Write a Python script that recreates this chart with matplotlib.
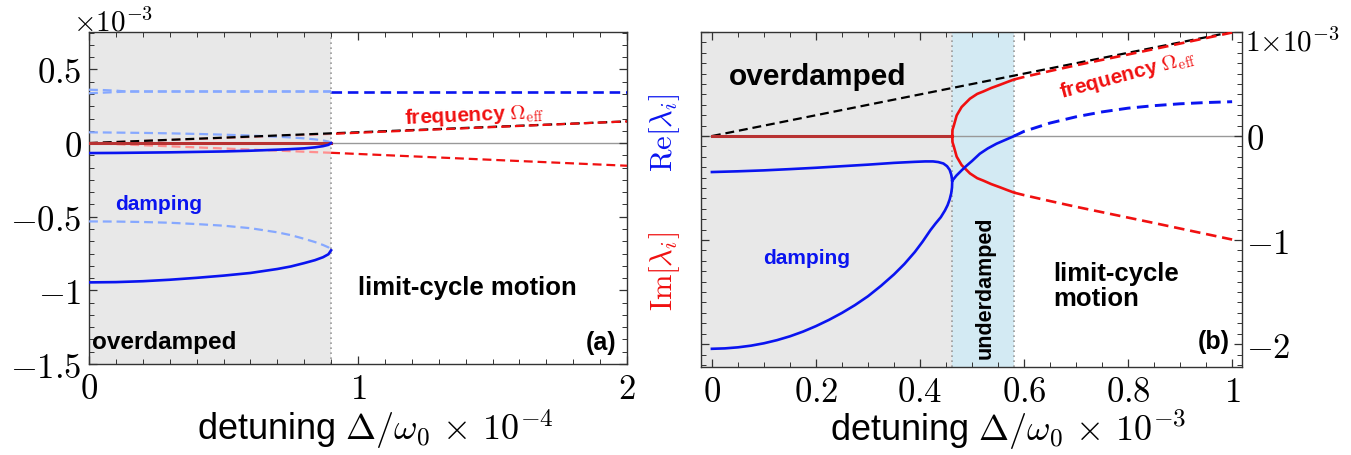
"""Eigenvalue branches vs detuning: overdamped / underdamped / limit-cycle regimes."""

import matplotlib
matplotlib.use("Agg")
import matplotlib.pyplot as plt
from matplotlib.ticker import MultipleLocator, FixedLocator

plt.rcParams["mathtext.fontset"] = "cm"
plt.rcParams["font.family"] = ["Liberation Sans", "DejaVu Sans"]

# ---------------- panel (a): x in 1e-4, y in 1e-3 ----------------
xa_gray = [0, 0.1, 0.2, 0.3, 0.4, 0.5, 0.6, 0.7, 0.75, 0.8, 0.84, 0.87, 0.89, 0.9]
a_small_up = [0.073, 0.071, 0.069, 0.066, 0.062, 0.057, 0.051, 0.043, 0.038, 0.032, 0.025, 0.018, 0.010, 0.0]
a_small_dn = [-0.068, -0.067, -0.065, -0.063, -0.060, -0.057, -0.052, -0.045, -0.041, -0.036, -0.029, -0.021, -0.012, 0.0]
a_big_up = [-0.532, -0.533, -0.536, -0.541, -0.550, -0.561, -0.578, -0.606, -0.625, -0.650, -0.672, -0.692, -0.708, -0.725]
a_big_dn = [-0.946, -0.944, -0.938, -0.928, -0.915, -0.900, -0.882, -0.855, -0.838, -0.815, -0.795, -0.775, -0.755, -0.728]

xa_top = [0, 0.05, 0.1, 0.14, 0.9]
a_top_up = [0.362, 0.360, 0.356, 0.350, 0.350]
a_top_dn = [0.338, 0.342, 0.346, 0.350, 0.350]

xa_line = [0, 0.9, 2.0]
a_diag = [0, 0.066, 0.147]          # black dashed reference line
a_freq_up = [0, 0.062, 0.147]
a_freq_dn = [0, -0.066, -0.154]
a_gamma_out = 0.350                 # blue dashed beyond the boundary
a_boundary = 0.9

# ---------------- panel (b): x in 1e-3, y in 1e-3 ----------------
b_ep = 0.462
b_lc = 0.581
xb_diag = [0, 1]
b_diag = [0, 1]

xb_rup = [0.462, 0.4625, 0.465, 0.4705, 0.48, 0.496, 0.51, 0.522, 0.537, 0.554, 0.567, 0.581]
b_rup = [0.0, 0.06, 0.10, 0.198, 0.279, 0.359, 0.405, 0.429, 0.462, 0.493, 0.518, 0.544]
xb_rup_d = [0.581, 0.6, 0.65, 0.7, 0.75, 0.8, 0.85, 0.9, 0.95, 1.0]
b_rup_d = [0.544, 0.568, 0.625, 0.680, 0.732, 0.784, 0.836, 0.889, 0.942, 0.995]

xb_gup = [0, 0.05, 0.1, 0.15, 0.2, 0.25, 0.3, 0.35, 0.39, 0.41, 0.425, 0.435, 0.445, 0.452, 0.457, 0.460, 0.462]
b_gup = [-0.346, -0.339, -0.330, -0.318, -0.305, -0.290, -0.275, -0.258, -0.248, -0.244, -0.244, -0.250, -0.264, -0.290, -0.325, -0.370, -0.430]
xb_gdn = [0, 0.025, 0.05, 0.075, 0.1, 0.125, 0.15, 0.175, 0.2, 0.225, 0.25, 0.275, 0.3, 0.325,
          0.35, 0.37, 0.39, 0.405, 0.42, 0.43, 0.44, 0.448, 0.453, 0.457, 0.46, 0.4615, 0.462]
b_gdn = [-2.045, -2.041, -2.031, -2.015, -1.992, -1.962, -1.925, -1.880, -1.827, -1.767, -1.700, -1.625,
         -1.540, -1.440, -1.330, -1.230, -1.115, -1.015, -0.905, -0.840, -0.780, -0.715, -0.665,
         -0.610, -0.550, -0.495, -0.430]
xb_gmid = [0.462, 0.47, 0.48, 0.49, 0.50, 0.515, 0.53, 0.547, 0.565, 0.581]
b_gmid = [-0.43, -0.38, -0.33, -0.283, -0.24, -0.17, -0.12, -0.074, -0.035, 0.0]
xb_gout = [0.581, 0.6, 0.65, 0.7, 0.75, 0.8, 0.85, 0.9, 0.95, 1.0]
b_gout = [0.0, 0.045, 0.125, 0.185, 0.232, 0.268, 0.292, 0.310, 0.322, 0.330]

BLUE = "#0a14f0"
RED = "#f01010"
DARKRED = "#b83232"
LBLUE = "#86a8ff"
LRED = "#ff8f8f"
GRAY = "#e8e8e8"
CYAN = "#d3eaf3"
DASH = (0, (4, 2.2))
LW = 1.6
BOLD = dict(fontweight="bold", family=["Liberation Sans", "DejaVu Sans"])


def frame(ax):
    for s in ax.spines.values():
        s.set_color("#333333")
        s.set_linewidth(1.0)
    ax.tick_params(direction="in", which="both", top=True, right=True,
                   colors="#333333", labelcolor="black", labelsize=25)
    ax.tick_params(which="major", length=6, width=0.9)
    ax.tick_params(which="minor", length=3.5, width=0.7)
    ax.axhline(0, color="#999999", lw=1.0, zorder=1)


fig = plt.figure(figsize=(13.51, 4.56), dpi=100)

# ---------------- panel (a) ----------------
ax = fig.add_axes([89 / 1351, 91 / 456, 538 / 1351, 332 / 456])
ax.set_xlim(0, 2)
ax.set_ylim(-1.5, 0.754)
ax.axvspan(0, a_boundary, color=GRAY, lw=0, zorder=0)
ax.axvline(a_boundary, color="#9a9a9a", lw=1.2, ls=(0, (1, 2)), zorder=1)
frame(ax)

ax.plot(xa_top, a_top_up, color=LBLUE, lw=LW, ls=DASH, zorder=3)
ax.plot(xa_top, a_top_dn, color=LBLUE, lw=LW, ls=DASH, zorder=3)
ax.plot([a_boundary, 2], [a_gamma_out, a_gamma_out], color=BLUE, lw=LW + 0.3, ls=DASH, zorder=3)

ax.plot(xa_line[:2], a_freq_up[:2], color=LRED, lw=LW, ls=DASH, zorder=3)
ax.plot(xa_line[:2], a_freq_dn[:2], color=LRED, lw=LW, ls=DASH, zorder=3)
ax.plot(xa_line[1:], a_freq_dn[1:], color=RED, lw=LW, ls=DASH, zorder=3)
ax.plot(xa_line, a_diag, color="black", lw=LW, ls=DASH, zorder=4)
ax.plot(xa_line[1:], a_freq_up[1:], color=RED, lw=LW, ls=(4, (4, 2.2)), zorder=5)
ax.plot([0, a_boundary], [0, 0], color=DARKRED, lw=2.2, zorder=4)

ax.plot(xa_gray, a_small_up, color=LBLUE, lw=LW, ls=DASH, zorder=3)
ax.plot(xa_gray, a_small_dn, color=BLUE, lw=LW + 0.3, zorder=4)
ax.plot(xa_gray, a_big_up, color=LBLUE, lw=LW, ls=DASH, zorder=3)
ax.plot(xa_gray, a_big_dn, color=BLUE, lw=LW + 0.3, zorder=4)

ax.xaxis.set_major_locator(FixedLocator([0, 1, 2]))
ax.xaxis.set_minor_locator(MultipleLocator(0.1))
ax.set_xticklabels(["$0$", "$1$", "$2$"])
ax.yaxis.set_major_locator(FixedLocator([0.5, 0, -0.5, -1, -1.5]))
ax.yaxis.set_minor_locator(MultipleLocator(0.5 / 6))
ax.set_yticklabels(["$0.5$", "$0$", "$-0.5$", "$-1$", "$-1.5$"])
ax.tick_params(axis="x", pad=6)
ax.tick_params(axis="y", pad=5)

ax.text(-0.03, 1.006, r"$\times 10^{-3}$", transform=ax.transAxes, fontsize=21,
        ha="left", va="baseline")
ax.text(0.533, -0.229, r"detuning $\Delta/\omega_0\,\times\,10^{-4}$", transform=ax.transAxes,
        fontsize=26, ha="center", va="baseline")
ax.text(0.130, 0.482, "damping", transform=ax.transAxes, color=BLUE, fontsize=15,
        ha="center", va="center", **BOLD)
ax.text(0.006, 0.069, "overdamped", transform=ax.transAxes, fontsize=17.5,
        ha="left", va="center", **BOLD)
ax.text(0.704, 0.232, "limit-cycle motion", transform=ax.transAxes, fontsize=18.5,
        ha="center", va="center", **BOLD)
ax.text(0.981, 0.066, "(a)", transform=ax.transAxes, fontsize=18,
        ha="right", va="center", **BOLD)
ax.text(0.716, 0.753, r"frequency $\Omega_{\rm eff}$", transform=ax.transAxes, color=RED,
        fontsize=15, ha="center", va="center", rotation=2.5, **BOLD)

# ---------------- panel (b) ----------------
bx = fig.add_axes([701 / 1351, 88 / 456, 541 / 1351, 335 / 456])
bx.set_xlim(-0.021, 1.019)
bx.set_ylim(-2.22, 1.0)
bx.axvspan(-0.021, b_ep, color=GRAY, lw=0, zorder=0)
bx.axvspan(b_ep, b_lc, color=CYAN, lw=0, zorder=0)
for xv in (b_ep, b_lc):
    bx.axvline(xv, color="#9a9a9a", lw=1.2, ls=(0, (1, 2)), zorder=1)
frame(bx)

bx.plot(xb_diag, b_diag, color="black", lw=LW, ls=DASH, zorder=3)
bx.plot([0, b_ep], [0, 0], color=DARKRED, lw=2.2, zorder=4)
bx.plot(xb_rup, b_rup, color=RED, lw=LW + 0.3, zorder=4)
bx.plot(xb_rup, [-v for v in b_rup], color=RED, lw=LW + 0.3, zorder=4)
bx.plot(xb_rup_d, b_rup_d, color=RED, lw=LW + 0.3, ls=DASH, zorder=4)
bx.plot(xb_rup_d, [-v for v in b_rup_d], color=RED, lw=LW + 0.3, ls=DASH, zorder=4)

bx.plot(xb_gup, b_gup, color=BLUE, lw=LW + 0.3, zorder=4)
bx.plot(xb_gdn, b_gdn, color=BLUE, lw=LW + 0.3, zorder=4)
bx.plot(xb_gmid, b_gmid, color=BLUE, lw=LW + 0.3, zorder=4)
bx.plot(xb_gout, b_gout, color=BLUE, lw=LW + 0.5, ls=DASH, zorder=4)

bx.xaxis.set_major_locator(FixedLocator([0, 0.2, 0.4, 0.6, 0.8, 1.0]))
bx.xaxis.set_minor_locator(MultipleLocator(0.05))
bx.set_xticklabels(["$0$", "$0.2$", "$0.4$", "$0.6$", "$0.8$", "$1$"])
bx.yaxis.set_major_locator(FixedLocator([1, 0, -1, -2]))
bx.yaxis.set_minor_locator(MultipleLocator(0.1))
bx.set_yticklabels(["", "$0$", "$-1$", "$-2$"])
bx.tick_params(axis="y", labelleft=False, labelright=True, pad=3)
bx.tick_params(axis="x", pad=6)

bx.text(1.0055, 0.970, r"$1{\times}10^{-3}$", transform=bx.transAxes, fontsize=21,
        ha="left", va="center")
bx.text(0.567, -0.218, r"detuning $\Delta/\omega_0\,\times\,10^{-3}$", transform=bx.transAxes,
        fontsize=26, ha="center", va="baseline")
bx.text(-0.068, 0.701, r"$\mathrm{Re}[\lambda_i]$", transform=bx.transAxes, color=BLUE,
        fontsize=22, ha="center", va="center", rotation=90)
bx.text(-0.068, 0.287, r"$\mathrm{Im}[\lambda_i]$", transform=bx.transAxes, color=RED,
        fontsize=22, ha="center", va="center", rotation=90)
bx.text(0.216, 0.869, "overdamped", transform=bx.transAxes, fontsize=21.5,
        ha="center", va="center", **BOLD)
bx.text(0.196, 0.328, "damping", transform=bx.transAxes, color=BLUE, fontsize=15,
        ha="center", va="center", **BOLD)
bx.text(0.525, 0.239, "underdamped", transform=bx.transAxes, fontsize=15.5,
        ha="center", va="center", rotation=90, **BOLD)
bx.text(0.651, 0.242, "limit-cycle\nmotion", transform=bx.transAxes, fontsize=18.5,
        ha="left", va="center", linespacing=1.05, **BOLD)
bx.text(0.978, 0.078, "(b)", transform=bx.transAxes, fontsize=18,
        ha="right", va="center", **BOLD)
bx.text(0.789, 0.875, r"frequency $\Omega_{\rm eff}$", transform=bx.transAxes, color=RED,
        fontsize=15, ha="center", va="center", rotation=15, **BOLD)

fig.savefig("out.png", dpi=100)
